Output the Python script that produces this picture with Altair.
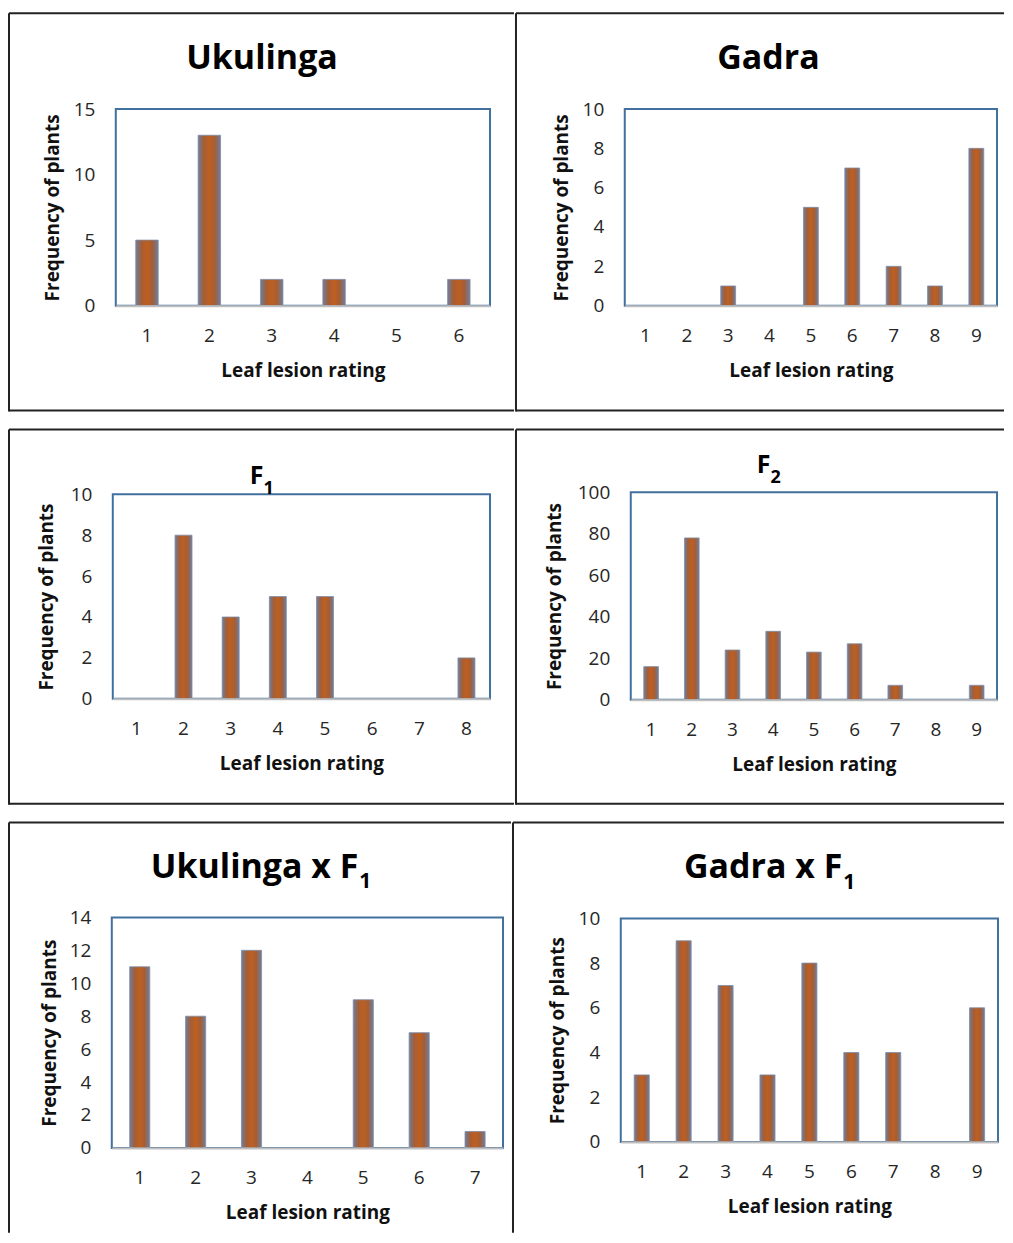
import altair as alt
import pandas as pd

# ---------------- data ----------------
ukulinga_cats = [1, 2, 3, 4, 5, 6]
ukulinga_vals = [5, 13, 2, 2, 0, 2]

gadra_cats = [1, 2, 3, 4, 5, 6, 7, 8, 9]
gadra_vals = [0, 0, 1, 0, 5, 7, 2, 1, 8]

f1_cats = [1, 2, 3, 4, 5, 6, 7, 8]
f1_vals = [0, 8, 4, 5, 5, 0, 0, 2]

f2_cats = [1, 2, 3, 4, 5, 6, 7, 8, 9]
f2_vals = [16, 78, 24, 33, 23, 27, 7, 0, 7]

ukxf1_cats = [1, 2, 3, 4, 5, 6, 7]
ukxf1_vals = [11, 8, 12, 0, 9, 7, 1]

gaxf1_cats = [1, 2, 3, 4, 5, 6, 7, 8, 9]
gaxf1_vals = [3, 9, 7, 3, 8, 4, 4, 0, 6]

y_title = "Frequency of plants"
x_title = "Leaf lesion rating"

FONT = "Open Sans"
BAR_FILL = alt.Gradient(
    gradient="linear",
    stops=[
        alt.GradientStop(color="#6E7E9C", offset=0.0),
        alt.GradientStop(color="#A35E38", offset=0.25),
        alt.GradientStop(color="#BF5F1F", offset=0.5),
        alt.GradientStop(color="#A35E38", offset=0.75),
        alt.GradientStop(color="#6E7E9C", offset=1.0),
    ],
    x1=0, x2=1, y1=0, y2=0,
)


def one():
    return alt.Data(values=[{"k": 1}])


def panel(cats, vals, ymax, yticks, w, h, box, ytx,
          main, sub, tpos, main_size, sub_size, borders):
    x0, y0, x1, y1 = box
    dom = [str(c) for c in cats]
    df = pd.DataFrame({"rating": dom, "freq": vals})

    xenc = alt.X(
        "rating:O",
        scale=alt.Scale(domain=dom, range=[x0, x1], paddingInner=0.64, paddingOuter=0.32),
        axis=alt.Axis(
            orient="bottom", offset=y1 - h, labelAngle=0, ticks=False, tickSize=0,
            domain=True, domainColor="#BFBFBF", domainWidth=2, grid=False,
            labelPadding=30, labelBaseline="middle", labelFontSize=19, labelColor="#262626",
            labelFont=FONT, title=x_title, titleX=(x0 + x1) / 2, titleY=65,
            titleBaseline="middle", titleAlign="center", titleFont=FONT,
            titleFontSize=19, titleFontWeight="bold", titleColor="#111111", zindex=1,
        ),
    )
    yenc = alt.Y(
        "freq:Q",
        scale=alt.Scale(domain=[0, ymax], range=[y1, y0], nice=False, zero=True),
        axis=alt.Axis(
            orient="left", offset=-x0, values=yticks, ticks=False, tickSize=0,
            domain=False, grid=False, labelPadding=21, labelFontSize=19,
            labelColor="#262626", labelFont=FONT, labelOverlap=False,
            title=y_title, titleX=ytx, titleY=(y0 + y1) / 2, titleAngle=270,
            titleBaseline="middle", titleAlign="center", titleFont=FONT,
            titleFontSize=19, titleFontWeight="bold", titleColor="#111111",
        ),
    )

    frame = alt.Chart(one()).mark_rect(
        filled=False, stroke="#41709F", strokeWidth=2
    ).encode(x=alt.value(x0), x2=alt.value(x1), y=alt.value(y0), y2=alt.value(y1))

    bars = alt.Chart(df).transform_filter("datum.freq > 0").mark_bar(
        color=BAR_FILL, stroke="#7D8DA8", strokeWidth=0.8
    ).encode(x=xenc, y=yenc)

    layers = [frame, bars]

    tx, ty, sx, sy = tpos
    if sub is None:
        layers.append(
            alt.Chart(one()).mark_text(
                text=main, font=FONT, fontWeight="bold", fontSize=main_size,
                align="center", baseline="alphabetic", color="#000000",
            ).encode(x=alt.value(tx), y=alt.value(ty))
        )
    else:
        layers.append(
            alt.Chart(one()).mark_text(
                text=main, font=FONT, fontWeight="bold", fontSize=main_size,
                align="right", baseline="alphabetic", color="#000000",
            ).encode(x=alt.value(tx), y=alt.value(ty))
        )
        layers.append(
            alt.Chart(one()).mark_text(
                text=sub, font=FONT, fontWeight="bold", fontSize=sub_size,
                align="left", baseline="alphabetic", color="#000000",
            ).encode(x=alt.value(sx), y=alt.value(sy))
        )

    for (a, b, c, d) in borders:
        layers.append(
            alt.Chart(one()).mark_rule(color="#222222", strokeWidth=2).encode(
                x=alt.value(a), x2=alt.value(b), y=alt.value(c), y2=alt.value(d)
            )
        )

    return alt.layer(*layers).properties(width=w, height=h)


# row 1  (total width kept at 997 so the page does not rescale it)
W1L, W1R, H1 = 507, 490, 400
p1 = panel(ukulinga_cats, ukulinga_vals, 15, [0, 5, 10, 15], W1L, H1,
           (108, 97, 483, 294), -63, "Ukulinga", None, (254.5, 57, 0, 0), 34, 21,
           [(1, 1, 1, H1), (1, W1L, 1, 1), (1, W1L, H1 - 1, H1 - 1)])
p2 = panel(gadra_cats, gadra_vals, 10, [0, 2, 4, 6, 8, 10], W1R, H1,
           (110, 97, 483, 294), -63, "Gadra", None, (254, 57, 0, 0), 34, 21,
           [(1, 1, 1, H1), (1, W1R, 1, 1), (1, W1R, H1 - 1, H1 - 1)])

# row 2
H2 = 378
p3 = panel(f1_cats, f1_vals, 10, [0, 2, 4, 6, 8, 10], W1L, H2,
           (105, 66, 483, 271), -66, "F", "1", (256, 56, 256, 66), 25, 18,
           [(1, 1, 1, 377), (1, W1L, 1, 1), (1, W1L, 376, 376)])
p4 = panel(f2_cats, f2_vals, 100, [0, 20, 40, 60, 80, 100], W1R, H2,
           (116, 64, 483, 272), -76, "F", "2", (256, 44.7, 256, 54.7), 25, 18,
           [(1, 1, 1, 377), (1, W1R, 1, 1), (1, W1R, 376, 376)])

# row 3 (open at the bottom, runs to the page edge)
W3L, W3R, H3 = 504, 493, 412
p5 = panel(ukxf1_cats, ukxf1_vals, 14, [0, 2, 4, 6, 8, 10, 12, 14], W3L, H3,
           (104, 96, 496, 327), -62, "Ukulinga x F", "1", (351, 57, 352, 67), 34, 21,
           [(1, 1, 1, H3), (1, W3L, 1, 1)])
p6 = panel(gaxf1_cats, gaxf1_vals, 10, [0, 2, 4, 6, 8, 10], W3R, H3,
           (109, 97, 487, 321), -63, "Gadra x F", "1", (331, 57, 332, 68), 34, 21,
           [(1, 1, 1, H3), (1, W3R, 1, 1)])

row1 = alt.hconcat(p1, p2, spacing=0)
row2 = alt.hconcat(p3, p4, spacing=0)
row3 = alt.hconcat(p5, p6, spacing=0)

chart = alt.vconcat(row1, row2, row3, spacing=16).properties(
    padding={"left": 0, "top": 3, "right": 0, "bottom": 0},
    background="white",
).configure_view(strokeWidth=0).configure_concat(spacing=0)

chart.save("out.html", embed_options={"renderer": "svg", "actions": False})
